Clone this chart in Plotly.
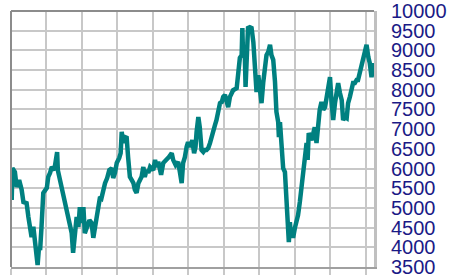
import plotly.graph_objects as go

# Time in years from the start of the series (gridline every year)
x_years = [0.02, 0.04, 0.11, 0.16, 0.23, 0.30, 0.35, 0.44, 0.49, 0.54, 0.58, 0.63, 0.68, 0.72, 0.75, 0.79,
           0.82, 0.86, 0.88, 0.91, 1.01, 1.05, 1.10, 1.15, 1.22, 1.26, 1.30, 1.32, 1.38, 1.45, 1.52, 1.57,
           1.61, 1.66, 1.71, 1.75, 1.80, 1.85, 1.90, 1.94, 1.99, 2.04, 2.08, 2.15, 2.21, 2.27, 2.32, 2.37,
           2.46, 2.51, 2.55, 2.60, 2.65, 2.71, 2.77, 2.84, 2.88, 2.93, 2.98, 3.05, 3.09, 3.12, 3.16, 3.21,
           3.26, 3.30, 3.35, 3.40, 3.45, 3.49, 3.54, 3.59, 3.63, 3.68, 3.73, 3.77, 3.82, 3.87, 3.92, 4.01,
           4.06, 4.10, 4.15, 4.23, 4.29, 4.39, 4.45, 4.53, 4.57, 4.64, 4.71, 4.76, 4.81, 4.85, 4.90, 4.95,
           4.99, 5.04, 5.11, 5.16, 5.20, 5.23, 5.28, 5.32, 5.35, 5.37, 5.42, 5.46, 5.51, 5.56, 5.61, 5.65,
           5.70, 5.75, 5.79, 5.84, 5.89, 5.94, 5.98, 6.03, 6.08, 6.12, 6.17, 6.22, 6.26, 6.36, 6.40, 6.45,
           6.50, 6.52, 6.54, 6.59, 6.61, 6.64, 6.68, 6.73, 6.78, 6.83, 6.87, 6.92, 6.97, 7.01, 7.06, 7.11,
           7.15, 7.20, 7.25, 7.30, 7.34, 7.39, 7.44, 7.48, 7.53, 7.55, 7.58, 7.63, 7.67, 7.72, 7.77, 7.79,
           7.83, 7.86, 7.89, 7.92, 7.95, 8.00, 8.05, 8.09, 8.14, 8.19, 8.23, 8.28, 8.33, 8.36, 8.39, 8.47,
           8.52, 8.56, 8.61, 8.66, 8.70, 8.75, 8.80, 8.85, 8.89, 8.94, 8.99, 9.03, 9.08, 9.13, 9.17, 9.22,
           9.27, 9.32, 9.36, 9.41, 9.46, 9.50, 9.55, 9.60, 9.64, 9.69, 9.74, 9.78, 9.83, 9.88, 9.92, 9.97,
           10.02, 10.07, 10.11, 10.16, 10.21]

index_values = [5200, 6010, 5910, 5530, 5710, 5460, 5150, 5120, 4770, 4440, 4260, 4520, 4190, 3930, 3550, 4010,
                3930, 4520, 5020, 5380, 5510, 5790, 5890, 6040, 5960, 6220, 6420, 5960, 5710, 5460, 5200, 4900,
                4770, 4520, 4360, 3860, 4440, 4770, 4520, 5020, 4620, 5020, 4360, 4520, 4690, 4620, 4240, 4520,
                5020, 5280, 5250, 5530, 5630, 5760, 5960, 6010, 5760, 5890, 6140, 6270, 6390, 6930, 6650, 6800,
                6780, 6290, 5790, 5710, 5630, 5460, 5380, 5630, 5710, 5790, 6040, 5790, 5960, 5890, 6040, 5960,
                6220, 6040, 6170, 5840, 6140, 6220, 6290, 6390, 6220, 6090, 6170, 5910, 5630, 6140, 6290, 6550,
                6670, 6550, 6720, 6390, 6550, 6930, 7310, 7050, 6800, 6470, 6420, 6470, 6470, 6520, 6650, 6800,
                7030, 7110, 7230, 7410, 7660, 7690, 7820, 7870, 7740, 7560, 7820, 7920, 7990, 8040, 8300, 8810,
                8880, 9570, 8880, 8880, 8070, 9060, 9570, 9590, 9570, 9210, 8710, 7940, 8370, 7940, 7660, 8200,
                8550, 8880, 8960, 9140, 8880, 8760, 8200, 7440, 7180, 6800, 7180, 6520, 6010, 5910, 5150, 4640,
                4130, 4640, 4310, 4490, 4240, 4490, 4640, 4820, 5150, 5580, 5890, 6390, 6650, 6220, 6900, 6720,
                6980, 7050, 6650, 7230, 7490, 7690, 7490, 7560, 7820, 7990, 8320, 7740, 7230, 7660, 7990, 8170,
                7920, 7740, 7230, 7310, 7280, 7660, 7820, 7990, 8170, 8170, 8250, 8250, 8430, 8680, 8760, 8930,
                9140, 8830, 8680, 8320, 8680]

y_ticks = [3500, 4000, 4500, 5000, 5500, 6000, 6500, 7000, 7500, 8000, 8500, 9000, 9500, 10000]

fig = go.Figure()
fig.add_trace(go.Scatter(
    x=x_years, y=index_values, mode="lines",
    line=dict(color="#008080", width=4.5), hoverinfo="skip", showlegend=False,
))

fig.update_layout(
    width=449, height=278,
    margin=dict(l=11, r=75, t=11, b=11),
    paper_bgcolor="white", plot_bgcolor="white",
    xaxis=dict(
        range=[0, 10.23], tick0=0, dtick=1, automargin=False,
        showgrid=True, gridcolor="#c8c8c8", gridwidth=2,
        zeroline=False, showticklabels=False,
        ticks="outside", ticklen=6, tickwidth=2, tickcolor="#c8c8c8",
        showline=True, linecolor="#a0a0a0", linewidth=2,
    ),
    yaxis=dict(
        range=[3500, 10000], side="right", automargin=False,
        tickmode="array", tickvals=y_ticks, ticktext=[str(v) for v in y_ticks],
        showgrid=True, gridcolor="#c8c8c8", gridwidth=2,
        zeroline=False, ticks="", ticklabelstandoff=10, ticklabeloverflow="allow",
        showline=True, linecolor="#c0c0c0", linewidth=3,
        tickfont=dict(family="Liberation Sans, Arial", size=20, color="#1a1a86"),
    ),
    shapes=[
        dict(type="line", xref="paper", yref="paper", x0=0, x1=0, y0=0, y1=1,
             line=dict(color="#8c8c8c", width=2)),
        dict(type="line", xref="paper", yref="paper", x0=0, x1=1, y0=1, y1=1,
             line=dict(color="#8c8c8c", width=2)),
    ],
)

fig.write_html("out.html", config={"displayModeBar": False},
               post_script="document.body.style.margin='0';")
